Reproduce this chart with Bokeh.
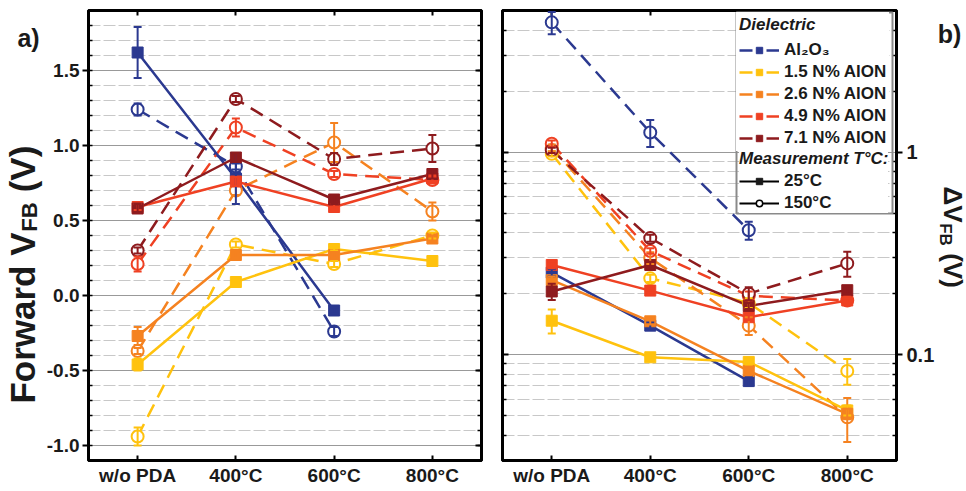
import math
from bokeh.plotting import figure
from bokeh.layouts import row
from bokeh.models import (ColumnDataSource, Whisker, TeeHead, FactorRange, Range1d,
                          CategoricalAxis, LinearAxis, SingleIntervalTicker,
                          FixedTicker, Legend, LegendItem, Label, BoxAnnotation,
                          PrintfTickFormatter, BasicTickFormatter, CustomJSTickFormatter)
from bokeh.embed import file_html
from bokeh.resources import INLINE

FONT = "Liberation Sans"

# ---------------- data ----------------
categories = ["w/o PDA", "400°C", "600°C", "800°C"]
dielectrics = ["Al₂O₃", "1.5 N% AlON", "2.6 N% AlON", "4.9 N% AlON", "7.1 N% AlON"]
colors = ["#2B3990", "#FFC20E", "#F58220", "#EF4123", "#8E1B1E"]

# panel a) Forward VFB (V) measured at 25°C
vfb25_al2o3 = [1.62, 0.78, -0.10, None]
vfb25_n15 = [-0.46, 0.09, 0.31, 0.23]
vfb25_n26 = [-0.27, 0.27, 0.27, 0.38]
vfb25_n49 = [0.59, 0.76, 0.59, 0.78]
vfb25_n71 = [0.58, 0.92, 0.64, 0.81]
vfb25_al2o3_err = [0.17, 0.17, 0.02, None]
vfb25_n15_err = [0.04, 0.01, 0.01, 0.01]
vfb25_n26_err = [0.06, 0.02, 0.02, 0.02]
vfb25_n49_err = [0.02, 0.03, 0.02, 0.02]
vfb25_n71_err = [0.03, 0.03, 0.03, 0.03]

# panel a) Forward VFB (V) measured at 150°C
vfb150_al2o3 = [1.24, 0.86, -0.24, None]
vfb150_n15 = [-0.94, 0.34, 0.21, 0.40]
vfb150_n26 = [-0.37, 0.70, 1.02, 0.56]
vfb150_n49 = [0.21, 1.12, 0.81, 0.77]
vfb150_n71 = [0.30, 1.31, 0.91, 0.98]
vfb150_al2o3_err = [0.04, 0.02, 0.03, None]
vfb150_n15_err = [0.06, 0.02, 0.02, 0.02]
vfb150_n26_err = [0.02, 0.03, 0.13, 0.06]
vfb150_n49_err = [0.05, 0.06, 0.02, 0.02]
vfb150_n71_err = [0.02, 0.02, 0.04, 0.09]

# panel b) delta VFB (V) at 25°C
dvfb25_al2o3 = [0.254, 0.139, 0.074, None]
dvfb25_n15 = [0.147, 0.097, 0.092, 0.053]
dvfb25_n26 = [0.233, 0.146, 0.083, 0.051]
dvfb25_n49 = [0.277, 0.207, 0.153, 0.185]
dvfb25_n71 = [0.205, 0.277, 0.174, 0.208]
dvfb25_al2o3_err = [0.010, 0.005, 0.004, None]
dvfb25_n15_err = [0.020, 0.003, 0.003, 0.003]
dvfb25_n26_err = [0.010, 0.005, 0.004, 0.003]
dvfb25_n49_err = [0.010, 0.005, 0.005, 0.005]
dvfb25_n71_err = [0.019, 0.010, 0.006, 0.008]

# panel b) delta VFB (V) at 150°C
dvfb150_al2o3 = [4.37, 1.25, 0.411, None]
dvfb150_n15 = [0.98, 0.238, 0.180, 0.083]
dvfb150_n26 = [1.05, 0.300, 0.139, 0.049]
dvfb150_n49 = [1.10, 0.325, 0.195, 0.185]
dvfb150_n71 = [1.02, 0.376, 0.200, 0.282]
dvfb150_al2o3_err = [0.55, 0.19, 0.042, None]
dvfb150_n15_err = [0.03, 0.010, 0.010, 0.012]
dvfb150_n26_err = [0.04, 0.020, 0.014, 0.012]
dvfb150_n49_err = [0.04, 0.010, 0.010, 0.008]
dvfb150_n71_err = [0.03, 0.015, 0.015, 0.040]

# axis ticks
vfb_tick_interval = 0.5
log_major_ticks = [0.1, 1]
log_minor_ticks = [0.03, 0.04, 0.05, 0.06, 0.07, 0.08, 0.09,
                   0.2, 0.3, 0.4, 0.5, 0.6, 0.7, 0.8, 0.9, 2, 3, 4]

a_25 = list(zip([vfb25_al2o3, vfb25_n15, vfb25_n26, vfb25_n49, vfb25_n71],
                [vfb25_al2o3_err, vfb25_n15_err, vfb25_n26_err, vfb25_n49_err, vfb25_n71_err]))
a_150 = list(zip([vfb150_al2o3, vfb150_n15, vfb150_n26, vfb150_n49, vfb150_n71],
                 [vfb150_al2o3_err, vfb150_n15_err, vfb150_n26_err, vfb150_n49_err, vfb150_n71_err]))
b_25 = list(zip([dvfb25_al2o3, dvfb25_n15, dvfb25_n26, dvfb25_n49, dvfb25_n71],
                [dvfb25_al2o3_err, dvfb25_n15_err, dvfb25_n26_err, dvfb25_n49_err, dvfb25_n71_err]))
b_150 = list(zip([dvfb150_al2o3, dvfb150_n15, dvfb150_n26, dvfb150_n49, dvfb150_n71],
                 [dvfb150_al2o3_err, dvfb150_n15_err, dvfb150_n26_err, dvfb150_n49_err, dvfb150_n71_err]))

H = 490
TXT = "#1a1a1a"


def source(values, errs):
    xs, ys, lo, hi = [], [], [], []
    for c, v, e in zip(categories, values, errs):
        if v is None:
            continue
        xs.append(c)
        ys.append(v)
        lo.append(v - e)
        hi.append(v + e)
    return ColumnDataSource(dict(x=xs, y=ys, lo=lo, hi=hi))


def base_fig(width, y_range, log, min_left, min_right, yloc):
    p = figure(width=width, height=H,
               x_range=FactorRange(factors=categories, range_padding=0),
               y_range=y_range, y_axis_type="log" if log else "linear",
               y_axis_location=yloc, output_backend="svg", toolbar_location=None,
               min_border_left=min_left, min_border_right=min_right,
               min_border_top=10, min_border_bottom=30)
    p.outline_line_color = "black"
    p.outline_line_width = 3
    p.outline_line_alpha = 1
    p.xgrid.visible = False
    p.background_fill_color = "white"
    p.border_fill_color = "white"
    return p


def text_strip(width):
    s = figure(width=width, height=H, x_range=Range1d(0, 1), y_range=Range1d(0, 1),
               x_axis_type=None, y_axis_type=None, output_backend="svg",
               toolbar_location=None, min_border=0)
    s.outline_line_color = None
    s.grid.visible = False
    s.background_fill_color = "white"
    s.border_fill_color = "white"
    return s


def style_axis(ax, labels=True, size="20px"):
    ax.axis_line_color = "black"
    ax.axis_line_width = 3
    ax.major_tick_line_color = "black"
    ax.major_tick_line_width = 2
    ax.minor_tick_line_color = "black"
    ax.minor_tick_line_width = 1.5
    ax.major_label_text_font = FONT
    ax.major_label_text_font_style = "bold"
    ax.major_label_text_color = TXT
    ax.major_label_text_font_size = size
    if not labels:
        ax.major_label_text_font_size = "1px"
        ax.major_label_text_color = None
        ax.major_label_standoff = 0


def style_x(p):
    bx = p.xaxis[0]
    style_axis(bx, True, "19px")
    bx.major_tick_in = 5
    bx.major_tick_out = 0
    bx.major_label_standoff = 4
    tx = CategoricalAxis()
    style_axis(tx, False)
    tx.major_tick_in = 5
    tx.major_tick_out = 0
    p.add_layout(tx, "above")


def style_grid(g):
    g.grid_line_color = "#999999"
    g.grid_line_width = 1
    g.minor_grid_line_color = "#c8c8c8"
    g.minor_grid_line_width = 1
    g.minor_grid_line_dash = "12 3"


def draw(p, s25, s150):
    srcs25 = [source(v, e) for v, e in s25]
    srcs150 = [source(v, e) for v, e in s150]
    for src, col in zip(srcs150, colors):
        p.line("x", "y", source=src, line_color=col, line_width=2.5, line_dash="14 8")
    for src, col in zip(srcs25, colors):
        p.line("x", "y", source=src, line_color=col, line_width=2.5)
    for src, col in zip(srcs150, colors):
        p.scatter("x", "y", source=src, marker="circle", size=12,
                  fill_color="white", line_color=col, line_width=2)
    for src, col in zip(srcs25, colors):
        p.scatter("x", "y", source=src, marker="square", size=11,
                  fill_color=col, line_color=col, line_width=1)
    for src, col in zip(srcs150 + srcs25, colors + colors):
        w = Whisker(source=src, base="x", lower="lo", upper="hi", dimension="height",
                    line_color=col, line_width=2, level="overlay",
                    upper_head=TeeHead(size=8, line_color=col, line_width=2),
                    lower_head=TeeHead(size=8, line_color=col, line_width=2))
        p.add_layout(w)


def label(p, x, y, text, size, angle=0.0, style="bold"):
    # screen units, relative to the strip's frame (aligned with the plot frames)
    p.add_layout(Label(x=x, y=y, x_units="screen", y_units="screen", text=text,
                       angle=angle, text_font=FONT, text_font_size=size,
                       text_font_style=style, text_color=TXT,
                       text_align="center", text_baseline="middle"))


# ---------------- left text strip ----------------
strip_a = text_strip(43)
label(strip_a, 28, 423, "a)", "25px")
label(strip_a, 21.5, 142.5, "Forward V", "35px", angle=math.pi / 2)
label(strip_a, 28.5, 243.5, "FB", "22px", angle=math.pi / 2)
label(strip_a, 21.5, 291.5, "(V)", "35px", angle=math.pi / 2)

# ---------------- panel a ----------------
pa = base_fig(447, Range1d(-1.1, 1.9), False, 42, 9, "left")
style_x(pa)
ticker_a = SingleIntervalTicker(interval=vfb_tick_interval, num_minor_ticks=5)
ya = pa.yaxis[0]
ya.ticker = ticker_a
ya.formatter = PrintfTickFormatter(format="%.1f")
style_axis(ya, True, "19px")
ya.major_tick_out = 6
ya.major_tick_in = 0
ya.minor_tick_in = 4
ya.minor_tick_out = 0
ya.major_label_standoff = 3
ra = LinearAxis(ticker=ticker_a, formatter=BasicTickFormatter())
style_axis(ra, False)
ra.major_tick_in = 6
ra.major_tick_out = 0
ra.minor_tick_in = 4
ra.minor_tick_out = 0
pa.add_layout(ra, "right")
pa.ygrid[0].ticker = ticker_a
style_grid(pa.ygrid[0])
draw(pa, a_25, a_150)

# ---------------- panel b ----------------
pb = base_fig(447, Range1d(0.03, 5), True, 12, 38, "right")
style_x(pb)
ticker_b = FixedTicker(ticks=log_major_ticks, minor_ticks=log_minor_ticks)
yb = pb.yaxis[0]
yb.ticker = ticker_b
yb.formatter = CustomJSTickFormatter(code="return tick >= 1 ? tick.toFixed(0) : tick.toFixed(1);")
style_axis(yb)
yb.major_tick_out = 6
yb.major_tick_in = 0
yb.minor_tick_in = 4
yb.minor_tick_out = 0
yb.major_label_standoff = 4
lb = LinearAxis(ticker=ticker_b, formatter=BasicTickFormatter())
style_axis(lb, False)
lb.major_tick_in = 6
lb.major_tick_out = 0
lb.minor_tick_in = 4
lb.minor_tick_out = 0
pb.add_layout(lb, "left")
pb.ygrid[0].ticker = ticker_b
style_grid(pb.ygrid[0])
draw(pb, b_25, b_150)

# ---------------- right text strip ----------------
strip_b = text_strip(29)
label(strip_b, 12, 427, "b)", "25px")
label(strip_b, 15, 256, "ΔV", "26px", angle=-math.pi / 2)
label(strip_b, 8, 226, "FB", "17px", angle=-math.pi / 2)
label(strip_b, 15, 190, "(V)", "26px", angle=-math.pi / 2)

# ---------------- legend ----------------
x_dummy = [categories[0]]
y_dummy = [float("nan")]
items_a = []
for name, col in zip(dielectrics, colors):
    ln = pb.line(x=x_dummy, y=y_dummy, line_color=col, line_width=2.5, line_dash="13 14")
    sq = pb.scatter(x=x_dummy, y=y_dummy, marker="square", size=11, fill_color=col, line_color=col)
    items_a.append(LegendItem(label=name, renderers=[ln, sq]))

ln25 = pb.line(x=x_dummy, y=y_dummy, line_color="black", line_width=2)
sq25 = pb.scatter(x=x_dummy, y=y_dummy, marker="square", size=11, fill_color=TXT, line_color=TXT)
ln150 = pb.line(x=x_dummy, y=y_dummy, line_color="black", line_width=2)
ci150 = pb.scatter(x=x_dummy, y=y_dummy, marker="circle", size=11, fill_color="white",
                   line_color="black", line_width=1.5)
items_b = [LegendItem(label="25°C", renderers=[ln25, sq25]),
           LegendItem(label="150°C", renderers=[ln150, ci150])]


def style_legend(lg, padding, standoff):
    lg.label_text_font = FONT
    lg.label_text_font_style = "bold"
    lg.label_text_font_size = "17px"
    lg.label_text_color = TXT
    lg.title_text_font = FONT
    lg.title_text_font_style = "bold italic"
    lg.title_text_font_size = "17px"
    lg.title_text_color = TXT
    lg.title_standoff = standoff
    lg.border_line_alpha = 0
    lg.background_fill_color = "white"
    lg.background_fill_alpha = 1
    lg.glyph_width = 40
    lg.glyph_height = 16
    lg.label_height = 20
    lg.label_standoff = 5
    lg.spacing = 2
    lg.padding = padding
    lg.margin = 0


leg_a = Legend(items=items_a, title="Dielectric", location=(234, 309))
style_legend(leg_a, 3, 5)
leg_b = Legend(items=items_b, title="Measurement T°C:", location=(237, 247))
style_legend(leg_b, 0, 2)
pb.add_layout(leg_a)
pb.add_layout(leg_b)

box = BoxAnnotation(left=234, right=390, bottom=247, top=448,
                    left_units="screen", right_units="screen",
                    top_units="screen", bottom_units="screen",
                    fill_alpha=0, line_color="#8a8a8a", line_width=2, line_alpha=1,
                    level="overlay")
pb.add_layout(box)

layout = row(strip_a, pa, pb, strip_b)
open("out.html", "w").write(file_html(layout, INLINE))
